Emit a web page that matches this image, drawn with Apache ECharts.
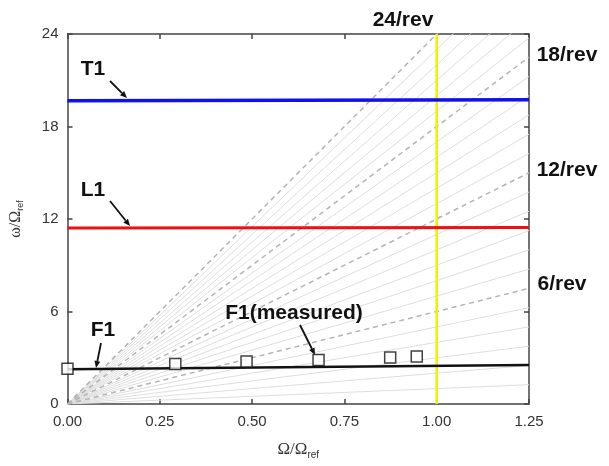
<!DOCTYPE html>
<html>
<head>
<meta charset="utf-8">
<script src="https://cdn.jsdelivr.net/npm/echarts@6/dist/echarts.min.js"></script>
<style>html,body{margin:0;padding:0;background:#fff}#c{width:609px;height:466px}</style>
</head>
<body>
<div id="c"></div>
<script>
// ---- data ----
const xTicks = [0, 0.25, 0.5, 0.75, 1.0, 1.25];
const yTicks = [0, 6, 12, 18, 24];
const revOrders = [1,2,3,4,5,6,7,8,9,10,11,12,13,14,15,16,17,18,19,20,21,22,23,24];
const revLabelled = [6, 12, 18, 24];
const t1Line = [[0, 19.67], [1.25, 19.73]];
const l1Line = [[0, 11.42], [1.25, 11.45]];
const f1Line = [[0, 2.25], [1.25, 2.53]];
const refSpeed = [[1.0, 0], [1.0, 24]];
const measuredX = [0.0, 0.292, 0.485, 0.68, 0.874, 0.946];
const measuredY = [2.28, 2.59, 2.75, 2.85, 3.02, 3.08];

const chart = echarts.init(document.getElementById('c'));
const FONT = 'Liberation Sans, Arial, sans-serif';

const revSeries = revOrders.map(n => {
  const major = revLabelled.indexOf(n) >= 0;
  return {
    type: 'line', silent: true, symbol: 'none', clip: true, z: major ? 3 : 2,
    data: [[0, 0], [1.25, 1.25 * n]],
    lineStyle: major ? {color: '#b4b4b4', width: 1.5, type: [5, 4]} : {color: '#dedede', width: 1}
  };
});

const axisCommon = {
  min: 0, splitLine: {show: false},
  axisLine: {show: true, onZero: false, lineStyle: {color: '#444', width: 1.5}},
  axisTick: {show: true, inside: true, length: 5, lineStyle: {color: '#444', width: 1.5}}
};

chart.setOption({
  animation: false,
  backgroundColor: '#fff',
  grid: {left: 67, right: 80, top: 34, bottom: 62},
  xAxis: [
    Object.assign({}, axisCommon, {type: 'value', max: 1.25, interval: 0.25, position: 'bottom',
      axisLabel: {color: '#333', fontSize: 15, fontFamily: FONT, margin: 10, formatter: v => v.toFixed(2)},
      name: '{m|Ω/Ω}{s|ref}', nameLocation: 'middle', nameGap: 36,
      nameTextStyle: {rich: {m: {fontFamily: 'Liberation Serif, Times New Roman, serif', fontSize: 17, color: '#333'},
                             s: {fontFamily: FONT, fontSize: 10, color: '#333', verticalAlign: 'bottom', padding: [10, 0, 0, 0]}}}}),
    Object.assign({}, axisCommon, {type: 'value', max: 1.25, interval: 0.25, position: 'top', axisLabel: {show: false}})
  ],
  yAxis: [
    Object.assign({}, axisCommon, {type: 'value', max: 24, interval: 6, position: 'left',
      axisLabel: {color: '#333', fontSize: 15, fontFamily: FONT, margin: 9},
      name: '{m|ω/Ω}{s|ref}', nameLocation: 'middle', nameGap: 42, nameRotate: 90,
      nameTextStyle: {rich: {m: {fontFamily: 'Liberation Serif, Times New Roman, serif', fontSize: 16, color: '#333'},
                             s: {fontFamily: FONT, fontSize: 9, color: '#333', padding: [10, 0, 0, 0]}}}}),
    Object.assign({}, axisCommon, {type: 'value', max: 24, interval: 6, position: 'right', axisLabel: {show: false}})
  ],
  series: revSeries.concat([
    {type: 'line', symbol: 'none', clip: true, z: 4, data: refSpeed, lineStyle: {color: '#f2f000', width: 2.5}},
    {type: 'line', symbol: 'none', clip: true, z: 5, data: t1Line, lineStyle: {color: '#1010ee', width: 3.5}},
    {type: 'line', symbol: 'none', clip: true, z: 5, data: l1Line, lineStyle: {color: '#ee1111', width: 3}},
    {type: 'line', symbol: 'none', clip: true, z: 5, data: f1Line, lineStyle: {color: '#111', width: 2.5}},
    {type: 'scatter', symbol: 'rect', symbolSize: 11, z: 6, clip: false,
      data: measuredX.map((x, i) => [x, measuredY[i]]),
      itemStyle: {color: '#fff', borderColor: '#111', borderWidth: 1.5}}
  ])
});

// ---- annotations (text + arrows) ----
function arrow(x1, y1, x2, y2) {
  const a = Math.atan2(y2 - y1, x2 - x1), L = 7, W = 3;
  const bx = x2 - L * Math.cos(a), by = y2 - L * Math.sin(a);
  const px = -Math.sin(a) * W, py = Math.cos(a) * W;
  return [
    {type: 'line', shape: {x1: x1, y1: y1, x2: bx, y2: by}, style: {stroke: '#111', lineWidth: 1.8}, z: 20},
    {type: 'polygon', shape: {points: [[x2, y2], [bx + px, by + py], [bx - px, by - py]]}, style: {fill: '#111'}, z: 20}
  ];
}
function label(text, x, y, size) {
  return {type: 'text', x: x, y: y, z: 20, style: {text: text, fill: '#111', font: 'bold ' + (size || 21) + 'px ' + FONT, textAlign: 'center', textVerticalAlign: 'middle'}};
}
const g = [
  label('T1', 93, 69), ...arrow(110, 81, 127, 98),
  label('L1', 93, 190), ...arrow(110, 201, 130, 226),
  label('F1', 103, 330), ...arrow(101, 343, 96, 368),
  label('F1(measured)', 294, 313), ...arrow(300, 325, 315, 355),
  label('24/rev', 403, 20), label('18/rev', 567, 55), label('12/rev', 567, 170), label('6/rev', 562, 284)
];
chart.setOption({graphic: g});
</script>
</body>
</html>
